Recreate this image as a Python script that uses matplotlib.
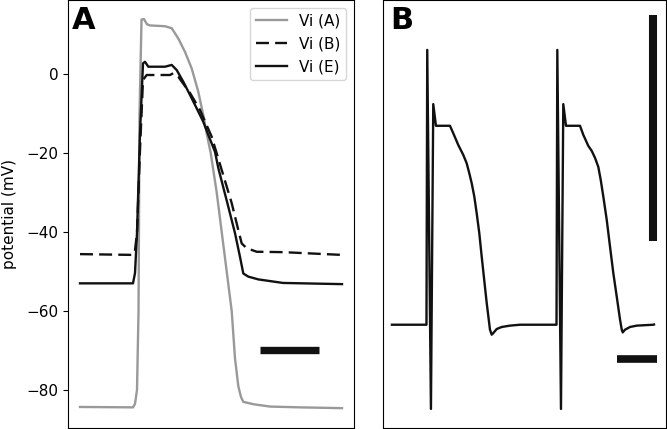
import numpy as np
import matplotlib
matplotlib.use("Agg")
import matplotlib.pyplot as plt

# panel A: three action potentials (time in ms, potential in mV)
t_a = [0, 90.1, 93.5, 96.9, 99.5, 101.2, 104.6, 108.8, 113.9, 119, 144.5,
       155.9, 167.1, 178.5, 189.9, 201.1, 209.6, 215.9, 222.2, 232.4, 240.9,
       249.4, 257.9, 263.5, 269.1, 273.7, 277.6, 294.6, 323, 374, 445.4]
vi_a = [-84.3, -84.4, -83.5, -80, -60, -10, 13.8, 13.9, 12.6, 12.3, 12.1,
        11.6, 9.0, 5.6, 1.4, -4.5, -10.4, -15.5, -20, -30, -40,
        -50, -60, -72, -79, -81.8, -83.0, -83.6, -84.2, -84.4, -84.6]

t_b = [0, 90.1, 93.5, 96.9, 102, 107.1, 113.4, 153, 158.6, 167.1, 187, 204,
       223.9, 240.9, 257.9, 269.1, 274.9, 283.4, 300.4, 345.1, 445.4]
vi_b = [-45.6, -45.8, -44.6, -40.3, -19.2, -1.5, -0.25, -0.25, 0.2, -0.7,
        -4.8, -9.1, -15.9, -24.3, -32.7, -39.5, -42.9, -44.1, -45.0, -45.1,
        -45.8]

t_e = [0, 90.1, 93.5, 96.9, 102, 107.1, 110.5, 116.1, 144.5, 155.9, 164.4,
       175.6, 187, 198.4, 209.6, 218.1, 229.5, 235.1, 252.1, 263.5, 272,
       277.6, 286.1, 303.1, 345.1, 445.4]
vi_e = [-53.0, -53.0, -50.4, -40.3, -14.9, 2.7, 3.1, 1.85, 1.85, 2.3, 1.0,
        -1.95, -5.3, -8.7, -12.1, -15.4, -19.7, -23.8, -33.6, -40.3, -46.3,
        -50.5, -51.3, -52.0, -52.9, -53.2]

# panel B: two paced beats
t_p = [0, 84.9, 86.8, 95.9, 101.6, 108.2, 142.7, 150.8, 163.1, 175.4, 183.8,
       190.2, 196.1, 202.5, 208.4, 214.8, 220.7, 233, 241.1, 245.3, 249.2,
       257.6, 269.9, 290.3, 314.9, 398.5,
       404.7, 406.7, 415.7, 421.4, 428, 462.5, 470.6, 482.9, 491.3, 499.4,
       507.5, 513.4, 519.8, 528.2, 536.3, 544.4, 552.8, 561, 565.2, 567.6,
       573.2, 585.5, 602, 642.8, 644.5]
v_p = [-85, -85, 36.7, -122.3, 12.7, 3.1, 3.1, -0.2, -5.4, -9.8, -13.5,
       -17.9, -22.3, -28.2, -35.6, -44.4, -54.8, -75.3, -87.2, -89.4, -88.7,
       -86.9, -86.0, -85.4, -85.0, -85,
       -85, 36.7, -122.3, 12.7, 3.1, 3.1, -0.9, -5.8, -8.0, -11.1,
       -15.1, -20.8, -28.2, -38.5, -50.4, -62.1, -72.5, -82.8, -87.2, -88.4,
       -87.2, -86.0, -85.4, -85.0, -84.9]

# scale bars
bar_a_t = [306, 406]
bar_a_v = [-70, -70]
bar_b_t = [553, 653]
bar_b_v = [-100, -100]
vbar_b_t = [642.6, 642.6]
vbar_b_v = [-48, 52]

fig = plt.figure(figsize=(6.67, 4.29), dpi=100)
ax1 = fig.add_axes([68 / 667, 1.3 / 429, 286 / 667, 427.7 / 429])
ax2 = fig.add_axes([383 / 667, 1.3 / 429, 283 / 667, 427.7 / 429])

lw = 1.7
ax1.plot(t_a, vi_a, color='#999999', lw=lw, label='Vi (A)')
ax1.plot(t_b, vi_b, color='#111111', lw=lw, dashes=(5.5, 2.6), label='Vi (B)')
ax1.plot(t_e, vi_e, color='#111111', lw=lw, label='Vi (E)')
ax1.plot(bar_a_t, bar_a_v, color='#111111', lw=5.3, solid_capstyle='butt')
ax1.set_xlim(-20.4, 465.8)
ax1.set_ylim(-89.55, 18.74)
ax1.set_xticks([])
ax1.set_yticks([0, -20, -40, -60, -80])
ax1.tick_params(axis='y', labelsize=11)
ax1.set_ylabel('potential (mV)', fontsize=11)
ax1.yaxis.set_label_coords(-0.18, 0.5)
ax1.legend(loc='upper right', fontsize=11)
ax1.text(0.012, 0.985, 'A', transform=ax1.transAxes, ha='left', va='top',
         fontsize=22, fontweight='bold')

ax2.plot(t_p, v_p, color='#111111', lw=lw)
ax2.plot(bar_b_t, bar_b_v, color='#111111', lw=5.5, solid_capstyle='butt')
ax2.plot(vbar_b_t, vbar_b_v, color='#111111', lw=5.8, solid_capstyle='butt')
ax2.set_xlim(-22, 674)
ax2.set_ylim(-130.6, 58.8)
ax2.set_xticks([])
ax2.set_yticks([])
ax2.text(0.025, 0.985, 'B', transform=ax2.transAxes, ha='left', va='top',
         fontsize=22, fontweight='bold')

fig.savefig('out.png', dpi=100)
